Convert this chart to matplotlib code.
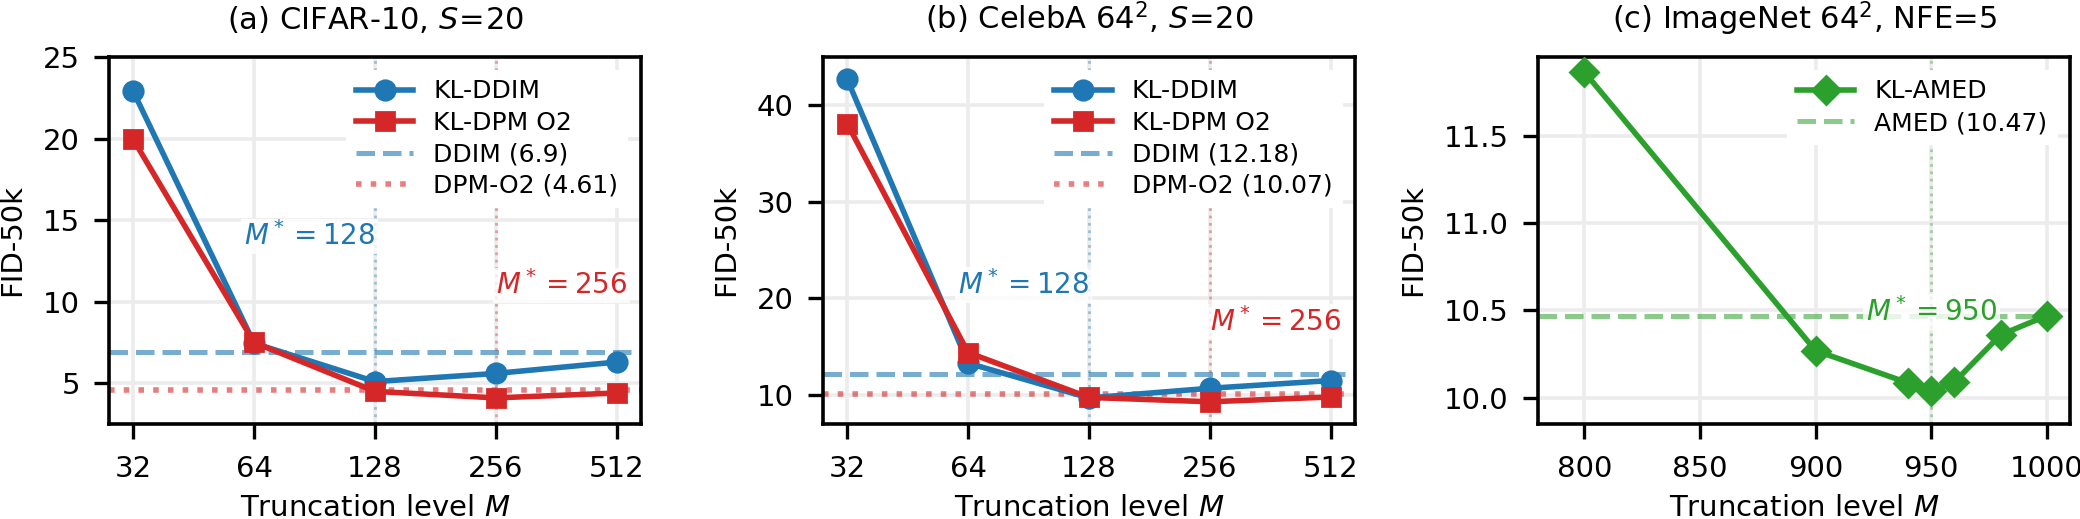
import numpy as np
import matplotlib
matplotlib.use("Agg")
import matplotlib.pyplot as plt
from matplotlib.ticker import FixedLocator, FixedFormatter

# truncation levels / FID values
M_ab = [32, 64, 128, 256, 512]

cifar_kl_ddim = [22.9, 7.45, 5.1, 5.6, 6.3]
cifar_kl_dpm = [19.95, 7.5, 4.5, 4.1, 4.4]
cifar_ddim = 6.9
cifar_dpm = 4.61

celeba_kl_ddim = [42.7, 13.3, 9.7, 10.7, 11.5]
celeba_kl_dpm = [38.1, 14.4, 9.75, 9.3, 9.8]
celeba_ddim = 12.18
celeba_dpm = 10.07

M_c = [800, 900, 940, 950, 960, 980, 1000]
imnet_kl_amed = [11.865, 10.27, 10.085, 10.04, 10.09, 10.36, 10.47]
imnet_amed = 10.47

blue = "#1f77b4"
red = "#d62728"
green = "#2ca02c"

plt.rcParams.update({
    "font.family": "DejaVu Sans",
    "font.size": 10.5,
    "axes.titlesize": 11,
    "axes.labelsize": 10.5,
    "axes.linewidth": 1.3,
    "xtick.major.size": 5.5,
    "ytick.major.size": 5.5,
    "xtick.major.width": 1.2,
    "ytick.major.width": 1.2,
    "xtick.major.pad": 5.5,
    "ytick.major.pad": 5,
    "axes.grid": True,
    "grid.color": "#ececec",
    "grid.linewidth": 1.3,
})

fig = plt.figure(figsize=(10.4, 2.595), dpi=200)
lefts = [109, 823, 1538]
axes = [fig.add_axes([l / 2080, 1 - 424 / 519, 532 / 2080, 367 / 519]) for l in lefts]

bbox = dict(facecolor="white", edgecolor="none", alpha=0.8, pad=1.0)


def panel_ab(ax, ddim, dpm, ddim_base, dpm_base, ylim, y128, y256, title):
    ax.plot(M_ab, ddim, color=blue, marker="o", lw=2, ms=7, label="KL-DDIM", zorder=4)
    ax.plot(M_ab, dpm, color=red, marker="s", lw=2, ms=6.5, label="KL-DPM O2", zorder=4)
    ax.axhline(ddim_base, color=blue, ls="--", lw=1.8, alpha=0.6, label=f"DDIM ({ddim_base})")
    ax.axhline(dpm_base, color=red, ls=":", lw=2, alpha=0.6, label=f"DPM-O2 ({dpm_base})")
    ax.axvline(128, color=blue, ls=":", lw=1, alpha=0.4)
    ax.axvline(256, color=red, ls=":", lw=1, alpha=0.4)
    ax.set_xscale("log", base=2)
    ax.xaxis.set_major_locator(FixedLocator(M_ab))
    ax.xaxis.set_major_formatter(FixedFormatter([str(m) for m in M_ab]))
    ax.xaxis.set_minor_locator(FixedLocator([]))
    ax.set_ylim(*ylim)
    ax.text(128, y128, r"$M^* = 128$", color=blue, ha="right", va="center",
            fontsize=10, bbox=bbox, zorder=5)
    ax.text(256, y256, r"$M^* = 256$", color=red, ha="left", va="center",
            fontsize=10, bbox=bbox, zorder=5)
    ax.set_title(title, pad=10)
    ax.set_xlabel(r"Truncation level $M$")
    ax.set_ylabel("FID-50k", labelpad=6)
    ax.legend(loc="upper right", frameon=True, edgecolor="none", framealpha=1,
              handlelength=2.3, labelspacing=0.3, fontsize=9)


panel_ab(axes[0], cifar_kl_ddim, cifar_kl_dpm, cifar_ddim, cifar_dpm,
         (2.5, 25), 14, 11, r"(a) CIFAR-10, $S\!=\!20$")
axes[0].set_yticks([5, 10, 15, 20, 25])

panel_ab(axes[1], celeba_kl_ddim, celeba_kl_dpm, celeba_ddim, celeba_dpm,
         (7, 45), 21.4, 17.6, r"(b) CelebA $64^2$, $S\!=\!20$")
axes[1].set_yticks([10, 20, 30, 40])

ax = axes[2]
ax.plot(M_c, imnet_kl_amed, color=green, marker="D", lw=2, ms=7, label="KL-AMED", zorder=4)
ax.axhline(imnet_amed, color=green, ls="--", lw=1.8, alpha=0.55, label=f"AMED ({imnet_amed})")
ax.axvline(950, color=green, ls=":", lw=1, alpha=0.4)
ax.text(950, 10.49, r"$M^* = 950$", color=green, ha="center", va="center",
        fontsize=10, bbox=bbox, zorder=3)
ax.set_xlim(780, 1010)
ax.set_ylim(9.85, 11.95)
ax.set_xticks([800, 850, 900, 950, 1000])
ax.set_yticks([10.0, 10.5, 11.0, 11.5])
ax.set_title(r"(c) ImageNet $64^2$, NFE=5", pad=10)
ax.set_xlabel(r"Truncation level $M$")
ax.set_ylabel("FID-50k", labelpad=6)
ax.legend(loc="upper right", frameon=True, edgecolor="none", framealpha=1,
          handlelength=2.3, labelspacing=0.3, fontsize=9)

for a in axes:
    a.set_axisbelow(True)

fig.savefig("out.png", dpi=200)
